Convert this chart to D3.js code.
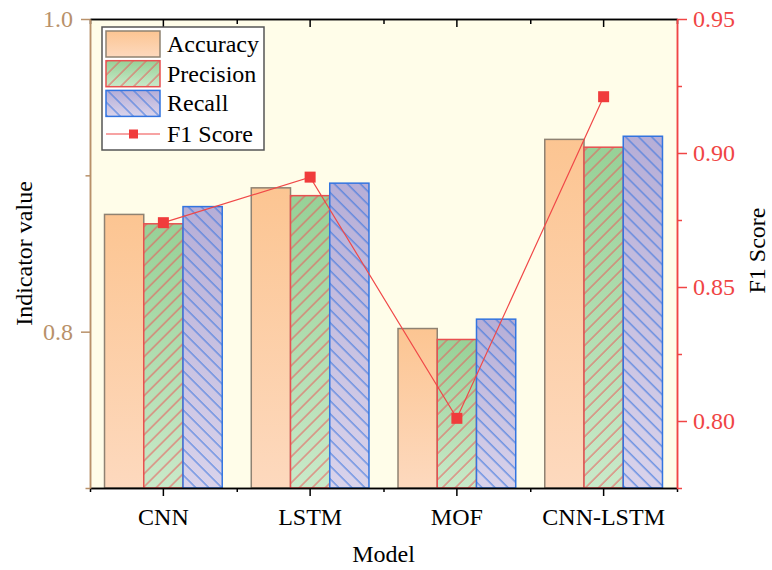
<!DOCTYPE html>
<html>
<head>
<meta charset="utf-8">
<script src="https://cdn.jsdelivr.net/npm/d3@7"></script>
<style>
    body { margin: 0; background: #fff; }
    svg text { font-family: 'Liberation Serif', 'Times New Roman', serif; }
</style>
</head>
<body>
<div id="chart"></div>
<script>
const models = ['CNN', 'LSTM', 'MOF', 'CNN-LSTM'];
const seriesNames = ['Accuracy', 'Precision', 'Recall'];
const accuracy = [0.875, 0.892, 0.802, 0.923];
const precision = [0.869, 0.887, 0.795, 0.918];
const recall = [0.880, 0.895, 0.808, 0.925];
const f1Score = [0.874, 0.891, 0.801, 0.921];
const leftMajorTicks = [0.8, 1.0];
const leftMinorTicks = [0.7, 0.9];
const rightMajorTicks = [0.80, 0.85, 0.90, 0.95];
const rightMinorTicks = [0.775, 0.825, 0.875, 0.925];

class BarLineChart {
    constructor(containerId) {
        this.containerId = containerId;
        this.init();
    }

    init() {
        const margin = { top: 19, right: 95, bottom: 82, left: 90 };
        const width = 772 - margin.left - margin.right;
        const height = 570 - margin.top - margin.bottom;
        this.width = width;
        this.height = height;

        const root = d3.select(`#${this.containerId}`)
            .append('svg')
            .attr('width', 772)
            .attr('height', 570);

        this.defs = root.append('defs');
        this.makeFills();

        this.svg = root.append('g')
            .attr('transform', `translate(${margin.left},${margin.top})`);

        this.x0 = d3.scaleBand().domain(models).range([0, width]).padding(0);
        this.x1 = d3.scaleBand().domain(seriesNames)
            .range([0, this.x0.bandwidth()])
            .paddingInner(0)
            .paddingOuter(0.37);
        this.yLeft = d3.scaleLinear().domain([0.7, 1.0]).range([height, 0]);
        this.yRight = d3.scaleLinear().domain([0.775, 0.95]).range([height, 0]);

        this.svg.append('rect')
            .attr('width', width)
            .attr('height', height)
            .attr('fill', '#fffde9');

        this.drawBars();
        this.drawF1();
        this.drawAxes();
        this.drawLegend();
    }

    makeFills() {
        const grads = {
            accGrad: ['#fcc592', '#fdd9be'],
            precGrad: ['#97d197', '#c9e9c9'],
            recGrad: ['#b6aed7', '#d9d3eb']
        };
        Object.entries(grads).forEach(([id, c]) => {
            const g = this.defs.append('linearGradient')
                .attr('id', id)
                .attr('x1', 0).attr('y1', 0)
                .attr('x2', 0).attr('y2', 1);
            g.append('stop').attr('offset', '0%').attr('stop-color', c[0]);
            g.append('stop').attr('offset', '100%').attr('stop-color', c[1]);
        });

        const hatch = (id, angle, color) => {
            const p = this.defs.append('pattern')
                .attr('id', id)
                .attr('patternUnits', 'userSpaceOnUse')
                .attr('width', 9.2)
                .attr('height', 9.2)
                .attr('patternTransform', `rotate(${angle})`);
            p.append('line')
                .attr('x1', 1).attr('y1', 0)
                .attr('x2', 1).attr('y2', 9.2)
                .attr('stroke', color)
                .attr('stroke-width', 1);
        };
        hatch('precHatch', 45, '#ea5a5a');
        hatch('recHatch', -45, '#3a76e0');
    }

    drawBars() {
        const styles = {
            Accuracy: { grad: 'url(#accGrad)', hatch: null, stroke: '#8f8272' },
            Precision: { grad: 'url(#precGrad)', hatch: 'url(#precHatch)', stroke: '#e85050' },
            Recall: { grad: 'url(#recGrad)', hatch: 'url(#recHatch)', stroke: '#3274e0' }
        };
        const values = { Accuracy: accuracy, Precision: precision, Recall: recall };

        const rows = [];
        seriesNames.forEach(s => {
            models.forEach((m, i) => rows.push({ model: m, series: s, value: values[s][i] }));
        });

        const g = this.svg.append('g').attr('class', 'bars');
        const bar = g.selectAll('g.bar')
            .data(rows)
            .join('g')
            .attr('class', 'bar');

        bar.append('rect')
            .attr('x', d => this.x0(d.model) + this.x1(d.series))
            .attr('y', d => this.yLeft(d.value))
            .attr('width', this.x1.bandwidth())
            .attr('height', d => this.height - this.yLeft(d.value))
            .attr('fill', d => styles[d.series].grad);

        bar.filter(d => styles[d.series].hatch)
            .append('rect')
            .attr('x', d => this.x0(d.model) + this.x1(d.series))
            .attr('y', d => this.yLeft(d.value))
            .attr('width', this.x1.bandwidth())
            .attr('height', d => this.height - this.yLeft(d.value))
            .attr('fill', d => styles[d.series].hatch);

        bar.append('rect')
            .attr('x', d => this.x0(d.model) + this.x1(d.series))
            .attr('y', d => this.yLeft(d.value))
            .attr('width', this.x1.bandwidth())
            .attr('height', d => this.height - this.yLeft(d.value))
            .attr('fill', 'none')
            .attr('stroke', d => styles[d.series].stroke)
            .attr('stroke-width', 1.5);
    }

    drawF1() {
        const pts = models.map((m, i) => ({ model: m, value: f1Score[i] }));
        const cx = d => this.x0(d.model) + this.x0.bandwidth() / 2;

        const line = d3.line()
            .x(cx)
            .y(d => this.yRight(d.value));

        this.svg.append('path')
            .datum(pts)
            .attr('d', line)
            .attr('fill', 'none')
            .attr('stroke', '#f04848')
            .attr('stroke-width', 1.2);

        this.svg.selectAll('rect.f1')
            .data(pts)
            .join('rect')
            .attr('class', 'f1')
            .attr('x', d => cx(d) - 5.5)
            .attr('y', d => this.yRight(d.value) - 5.5)
            .attr('width', 11)
            .attr('height', 11)
            .attr('fill', '#f03c3c');
    }

    drawAxes() {
        const tan = '#b8916a';
        const red = '#f04545';
        const w = this.width, h = this.height;
        const edges = d3.scaleLinear().domain([0, models.length]).range([0, w]);

        const styleAxis = (sel, color) => {
            sel.selectAll('path, line').attr('stroke', color).attr('stroke-width', 1.5);
            sel.selectAll('text')
                .attr('fill', color)
                .style('font-size', '24px')
                .style('font-family', "'Liberation Serif', 'Times New Roman', serif");
        };

        // bottom
        const bottomMinor = this.svg.append('g')
            .attr('transform', `translate(0,${h})`)
            .call(d3.axisBottom(edges).tickValues(d3.range(models.length + 1))
                .tickSize(4).tickSizeOuter(0).tickFormat(''));
        styleAxis(bottomMinor, '#000');

        const bottom = this.svg.append('g')
            .attr('transform', `translate(0,${h})`)
            .call(d3.axisBottom(this.x0).tickSize(8).tickSizeOuter(0).tickPadding(12));
        styleAxis(bottom, '#000');

        // top mirror with inward ticks
        const topMinor = this.svg.append('g')
            .call(d3.axisTop(edges).tickValues(d3.range(models.length + 1))
                .tickSize(-5).tickSizeOuter(0).tickFormat(''));
        styleAxis(topMinor, '#000');
        const top = this.svg.append('g')
            .call(d3.axisTop(this.x0).tickSize(-8).tickSizeOuter(0).tickFormat(''));
        styleAxis(top, '#000');

        // left
        const leftMinor = this.svg.append('g')
            .call(d3.axisLeft(this.yLeft).tickValues(leftMinorTicks)
                .tickSize(4.5).tickSizeOuter(0).tickFormat(''));
        styleAxis(leftMinor, tan);
        const left = this.svg.append('g')
            .call(d3.axisLeft(this.yLeft).tickValues(leftMajorTicks)
                .tickFormat(d3.format('.1f')).tickSize(9).tickSizeOuter(0).tickPadding(8));
        styleAxis(left, tan);

        // right
        const rightMinor = this.svg.append('g')
            .attr('transform', `translate(${w},0)`)
            .call(d3.axisRight(this.yRight).tickValues(rightMinorTicks)
                .tickSize(5).tickSizeOuter(0).tickFormat(''));
        styleAxis(rightMinor, red);
        const right = this.svg.append('g')
            .attr('transform', `translate(${w},0)`)
            .call(d3.axisRight(this.yRight).tickValues(rightMajorTicks)
                .tickFormat(d3.format('.2f')).tickSize(10).tickSizeOuter(0).tickPadding(6));
        styleAxis(right, red);

        this.svg.append('text')
            .attr('text-anchor', 'middle')
            .attr('x', w / 2)
            .attr('y', h + 74)
            .style('font-size', '24px')
            .text('Model');

        this.svg.append('text')
            .attr('text-anchor', 'middle')
            .attr('transform', 'rotate(-90)')
            .attr('x', -h / 2)
            .attr('y', -58)
            .style('font-size', '24px')
            .text('Indicator value');

        this.svg.append('text')
            .attr('text-anchor', 'middle')
            .attr('transform', 'rotate(-90)')
            .attr('x', -h / 2 + 3)
            .attr('y', w + 88)
            .style('font-size', '24px')
            .text('F1 Score');
    }

    drawLegend() {
        const lg = this.svg.append('g').attr('transform', 'translate(12,8)');
        lg.append('rect')
            .attr('width', 162)
            .attr('height', 123)
            .attr('fill', '#fff')
            .attr('stroke', '#555')
            .attr('stroke-width', 1.5);

        const items = [
            { name: 'Accuracy', fills: ['url(#accGrad)'], stroke: '#8f8272' },
            { name: 'Precision', fills: ['url(#precGrad)', 'url(#precHatch)'], stroke: '#e85050' },
            { name: 'Recall', fills: ['url(#recGrad)', 'url(#recHatch)'], stroke: '#3274e0' }
        ];

        items.forEach((it, i) => {
            const row = lg.append('g').attr('transform', `translate(4,${4 + i * 29.7})`);
            it.fills.forEach(f => {
                row.append('rect').attr('width', 54).attr('height', 26).attr('fill', f);
            });
            row.append('rect')
                .attr('width', 54).attr('height', 26)
                .attr('fill', 'none')
                .attr('stroke', it.stroke)
                .attr('stroke-width', 1.5);
            row.append('text')
                .attr('x', 61)
                .attr('y', 21)
                .style('font-size', '24px')
                .text(it.name);
        });

        const f1Row = lg.append('g').attr('transform', 'translate(4,107)');
        f1Row.append('line')
            .attr('x1', 0).attr('x2', 54)
            .attr('stroke', '#f04848')
            .attr('stroke-width', 1.2);
        f1Row.append('rect')
            .attr('x', 23).attr('y', -4.5)
            .attr('width', 9).attr('height', 9)
            .attr('fill', '#f03c3c');
        f1Row.append('text')
            .attr('x', 61)
            .attr('y', 8)
            .style('font-size', '24px')
            .text('F1 Score');
    }
}

new BarLineChart('chart');
</script>
</body>
</html>
